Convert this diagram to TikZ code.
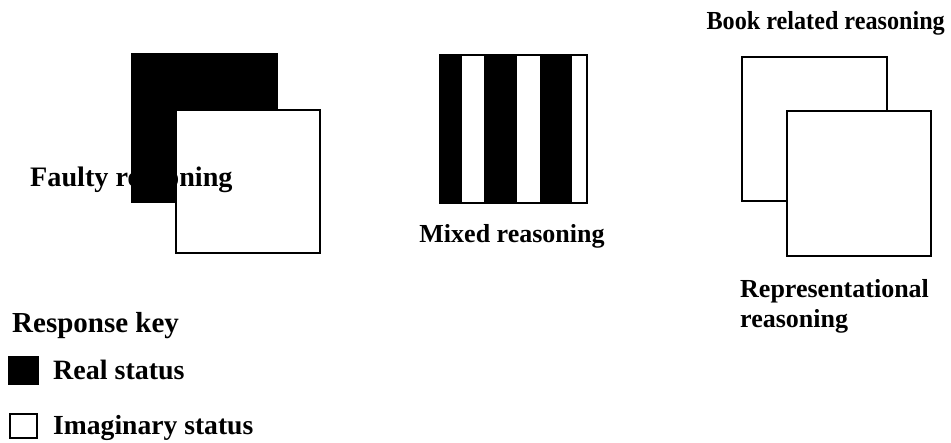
\documentclass[tikz,border=0pt]{standalone}
\usepackage{graphicx}
\usepackage{fontspec}
\setmainfont{Liberation Serif}
\begin{document}
\begin{tikzpicture}[x=1pt,y=-1pt,
  lbl/.style={font=\bfseries\fontsize{#1}{#1}\selectfont, inner sep=0pt, anchor=base west},
  lbl/.default=26,
  box/.style={draw=black, line width=1.8pt, inner sep=0pt, outer sep=0pt, anchor=north west},
  realbox/.style={box, fill=black},
  imagbox/.style={box, fill=white}]
\useasboundingbox (0,0) rectangle (951,443);

% faulty reasoning: real status behind imaginary status
\node[realbox, minimum width=145pt, minimum height=148pt] (frear) at (132,54) {};
\node[imagbox, minimum width=144pt, minimum height=143pt] (ffront) at (176,110) {};
\node[lbl=28.2] (flabel) at (30,187) {Faulty reasoning};

% mixed reasoning: alternating stripes in one frame
\fill[black] (440,55) rectangle (462,203);
\fill[black] (484,55) rectangle (517,203);
\fill[black] (540,55) rectangle (572,203);
\node[box, minimum width=147pt, minimum height=148pt] (mixframe) at (440,55) {};
\node[lbl, anchor=base] (mlabel) at (512,243) {Mixed reasoning};

% book related and representational reasoning
\node[lbl, anchor=base east] (blabel) at (945,30) {\scalebox{0.93}[1]{Book related reasoning}};
\node[imagbox, minimum width=145pt, minimum height=144pt] (brear) at (742,57) {};
\node[imagbox, minimum width=144pt, minimum height=145pt] (rfront) at (787,111) {};
\node[lbl] (rlabel1) at (740,298) {Representational};
\node[lbl] (rlabel2) at (740,328) {reasoning};

% response key
\node[lbl=29] (keytitle) at (12,333) {Response key};
\node[realbox, minimum width=29pt, minimum height=27pt] (keyreal) at (9,357) {};
\node[lbl=28] (realtext) at (53,380) {Real status};
\node[imagbox, minimum width=27pt, minimum height=24pt] (keyimag) at (10,414) {};
\node[lbl=27.6] (imagtext) at (53,435) {Imaginary status};
\end{tikzpicture}
\end{document}
